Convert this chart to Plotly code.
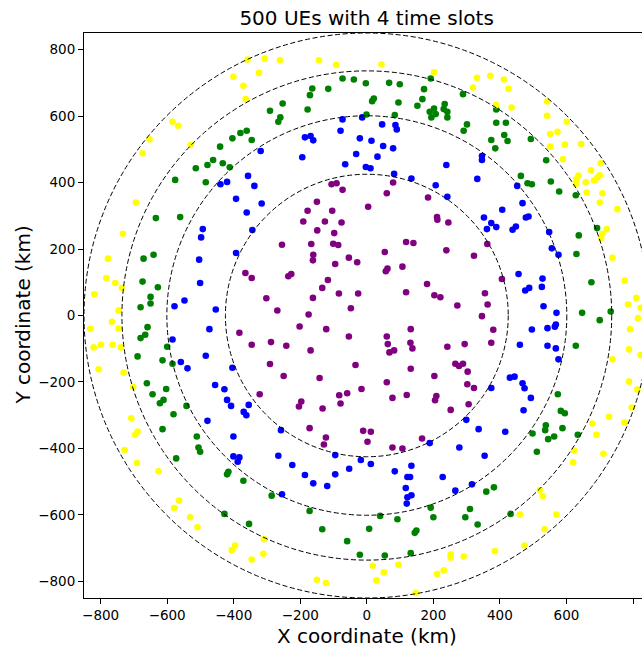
import plotly.graph_objects as go

# ---- data (km) ----
purple_x = [-191, -126, -76, -149, -98, -255, -167, -101, -86, -161, -162, -95, -54, -29, -365, -346, -236, -227, -117, -134,
            -302, -162, -84, -26, -48, -269, -175, -202, -122, -383, -54, -346, -288, -242, -169, -291, -34, -250, -142, -322,
            -83, -59, -16, -79, -197, -204, -133,
            212, 245, 118, 140, 54, 239, 322, 362, 107, 62, 57, 181, 118, 203, 221, 272, 355, 363, 346, 406,
            380, 132, 60, 63, 68, 82, 131, 137, 242, 294, 374, 132, 266, 277, 289, 303, 203, 60, 302, 322,
            120, 77, 209, 205, 306, 252,
            -106, -91, -73, -150, -178, -104, 79, 60, 4, 184, 211,
            -172, -123, -129, -11, 12, 2, 77, 107, 166]
purple_y = [283, 283, 280, 256, 248, 213, 215, 216, 212, 183, 166, 155, 174, 160, 128, 113, 118, 125, 107, 83,
            52, 53, 66, 66, 22, 15, 3, -33, -41, -52, -63, -88, -80, -91, -105, -146, -149, -182, -188, -237,
            -240, -234, -221, -265, -259, -274, -280,
            288, 280, 221, 218, 191, 196, 180, 215, 147, 141, 133, 95, 70, 61, 55, 30, 67, 33, -2, 110,
            -43, -41, -63, -86, -111, -105, -82, -99, -94, -86, -82, -160, -145, -152, -145, -169, -182, -201, -207, -218,
            -239, -248, -242, -255, -267, -284,
            395, 398, 378, 342, 315, 315, 400, 368, 327, 355, 296,
            -339, -367, -388, -347, -350, -380, -397, -400, -370]

blue_x = [-440, -420,
          -73, -14, -79, -21, -186, -169, -161, -32, -65, -194, -319, -357, -338, -393, -316, -361, -3,
          46, 86, 90, 14, 49, 79, 32, 11, 82, 134, 207, 239, 242, 346, 346, 332, 352, 407,
          452, 468, 478, 486,
          374, 389, 361, 374,
          448, 438, 548, 556, 576, 456, 528, 526, 488, 476, 531, 570, 496, 543, 565, 568, 460, 543, 568, 576,
          430, 444, 468, 474, 493, 471,
          416,
          299, 336, 189, 278, 354, 12, 84, 134, 122, 130, 228, 117, 134, 122, 120, 266, 316,
          -370, -362, -401, -258, -401, -383, -388, -266, -224, -186, -161, -119, -95, -95, -53, -18, -255,
          -344, -393, -404, -420, -408, -355,
          -493, -498, -504, -501, -548, -578, -454, -473, -584, -484, -559, -539, -456, -428,
          -479]
blue_y = [395, 402,
          590, 596, 556, 533, 536, 540, 527, 486, 455, 476, 495, 420, 390, 351, 337, 310, 447,
          575, 573, 560, 526, 510, 503, 478, 443, 426, 412, 392, 453, 357, 480, 468, 411, 295, 318,
          390, 338, 295, 298,
          278, 266, 260, -218,
          268, 258, 251, 202, 183, 125, 111, 86, 83, 75, 28, 8, -42, -38, -34, -27, -88, -91, -99, -132,
          -187, -184, -204, -219, -248, -285,
          -350,
          -314, -342, -384, -397, -422, -447, -469, -452, -486, -486, -486, -519, -541, -547, -566, -527, -508,
          -290, -300, -364, -345, -424, -427, -440, -422, -450, -480, -505, -513, -420, -478, -461, -435, -538,
          257, 188, -157, -254, -272, -269,
          260, 235, 168, 98, 45, 28, 18, -41, -72, -121, -140, -159, -209, -222,
          -317]

green_x = [-441, -462, -479, -433, -514, -484, -576, -634, -561,
           -671, -641, -674, -628, -650, -650, -680, -659, -666, -680, -600, -689, -614, -584, -661, -603, -644, -611, -622, -542,
           -581, -614, -511, -506, -501, -573, -428,
           -416, -420, -371, -286, -172, -354, -134, -59, -21,
           192, 310, 359, 382, 40, 92, 200, 296, 333, 7, 144, 149, 54, 132,
           583, 595, 538, 536, 588, 563, 545, 498, 634, 511, 432,
           637, 692, 630, 675, 647, 700, 733, 628, 574,
           418, 413, 423, 493, 539, 463, 483, 496, 553, 578, 628,
           -3, 67, 99, 172, 192, 289, 16, 21, 95, 167, 152, 189, 202, 194, 207, 234, 231, 242, 242, 84, -1, 301, 291, 389, 389, 374, 386,
           -73, -39, -164, -116, -171, -253, -291, -178, -260, -266, -404, -380, -361, -346, -412]
green_y = [508, 468, 453, 458, 443, 401, 408, 293, 296,
           171, 183, 102, 85, 56, 36, 25, -35, -58, -68, -94, -123, -135, -145, -204, -221, -237, -254, -264, -272,
           -297, -342, -364, -397, -410, -430, -597,
           -470, -478, -497, -542, -588, -627, -643, -679, -720,
           -578, -582, -530, -517, -603, -613, -607, -607, -629, -642, -654, -647, -722, -715,
           -287, -294, -330, -345, -339, -364, -372, -355, -359, -410, -597,
           241, 263, 185, 100, 8, -14, 12, -91, -237,
           580, 543, 525, 531, 467, 420, 398, 395, 403, 373, 362,
           699, 700, 696, 681, 713, 666, 645, 653, 641, 651, 631, 613, 623, 596, 606, 636, 621, 613, 596, 603, 605, 575, 556, 620, 580, 528, 503,
           713, 710, 683, 682, 663, 638, 616, 620, 596, 583, 533, 549, 556, 528, 446]

yellow_x = [-584, -567, -653, -674, -529, -694,
            -358, -307, -261, -144, -92, -401, -324, -371, -364,
            44, 202, 331, 371, 412, 319, 389,
            426, 435, 542, 542, 601, 551, 573, 551, 595, 644, 589, 703, 674, 700, 693, 683, 658, 636, 630, 628, 661, 708, 700, 753,
            721, 708, 704, 738, 775, 810, 785, 823, 815, 791, 788, 823, 738, 788, 813, 796,
            678, 728, 774, 690, 623, 711, 620, 520, 529, 460, 570, 534, 474,
            18, 51, 29, 95, 211, 231, 252, 252, 291, 385, 147,
            -396, -406, -309, -311, -346, -150, -123,
            -708, -689, -696, -728, -691, -626, -564, -579, -531, -509,
            -733, -778, -783, -756, -736, -819, -746, -766, -831, -746, -821, -799, -764, -739, -806, -731, -702]
yellow_y = [583, 571, 530, 488, 513, 340,
            770, 773, 768, 768, 754, 718, 730, 691, 651,
            755, 732, 715, 721, 710, 686, 633,
            682, 626, 644, 601, 583, 546, 553, 508, 514, 516, 470, 458, 437, 422, 415, 406, 401, 421, 410, 396, 370, 368, 340, 320,
            260, 246, 233, 174, 105, 53, 33, 23, -8, -41, -102, -119, -132, -199, -223, -277,
            -325, -305, -322, -359, -406, -416, -442, -525, -544, -599, -599, -643, -692,
            -753, -773, -797, -750, -778, -767, -719, -729, -725, -709, -835,
            -692, -706, -673, -717, -734, -795, -805,
            -309, -349, -359, -405, -444, -469, -557, -579, -607, -637,
            246, 171, 113, 98, 83, 64, 15, -19, -40, -39, -96, -88, -88, -96, -162, -172, -215]

ring_radii = [425, 601, 736, 850]
tick_vals = [-800, -600, -400, -200, 0, 200, 400, 600, 800]

FONT = "DejaVu Sans"

fig = go.Figure()
for xs, ys, col in [(purple_x, purple_y, "purple"), (blue_x, blue_y, "blue"),
                    (green_x, green_y, "green"), (yellow_x, yellow_y, "yellow")]:
    fig.add_trace(go.Scatter(x=xs, y=ys, mode="markers",
                             marker=dict(color=col, size=6.6, line=dict(width=0)),
                             showlegend=False, hoverinfo="skip"))

for r in ring_radii:
    fig.add_shape(type="circle", xref="x", yref="y", x0=-r, y0=-r, x1=r, y1=r,
                  line=dict(color="black", width=1.0, dash="5px,2.6px"), layer="above")

axis_common = dict(showline=True, linecolor="black", linewidth=1, ticks="outside", ticklen=5,
                   tickwidth=1, tickcolor="black", showgrid=False, zeroline=False,
                   tickvals=tick_vals, tickfont=dict(family=FONT, size=13.5, color="black"))

fig.update_layout(
    width=642, height=648,
    margin=dict(l=84, r=0, t=33, b=50),
    paper_bgcolor="white", plot_bgcolor="white",
    xaxis=dict(range=[-850, 827], mirror=True, **axis_common),
    yaxis=dict(range=[-850, 850], mirror=False, **axis_common),
    title=dict(text="500 UEs with 4 time slots", x=0.5065, xref="paper", xanchor="center",
               y=1 - 18 / 648, yanchor="middle", font=dict(family=FONT, size=20, color="black")),
    annotations=[
        dict(text="X coordinate (km)", xref="paper", yref="paper", x=0.5065, y=-0.067,
             xanchor="center", yanchor="middle", showarrow=False,
             font=dict(family=FONT, size=20, color="black")),
        dict(text="Y coordinate (km)", xref="paper", yref="paper", x=-0.111, y=0.5,
             xanchor="center", yanchor="middle", showarrow=False, textangle=-90,
             font=dict(family=FONT, size=20, color="black")),
    ],
)

fig.write_html("out.html", config={"displayModeBar": False, "staticPlot": True},
               post_script="document.body.style.margin='0';document.body.style.overflow='hidden';")
